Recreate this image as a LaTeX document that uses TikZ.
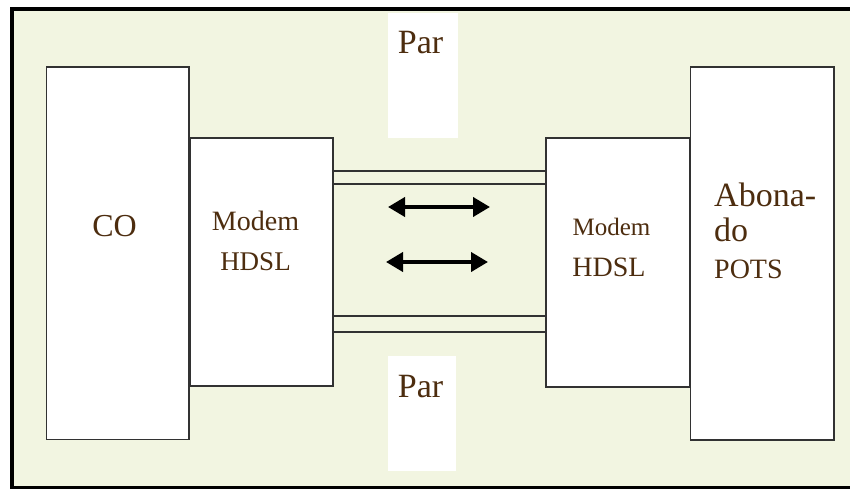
\documentclass[tikz,border=0pt]{standalone}
\usepackage{fontspec}
\setmainfont{Liberation Serif}
\usetikzlibrary{arrows.meta}
\definecolor{bgcream}{RGB}{242,245,225}
\definecolor{txtbrown}{RGB}{77,45,15}
\definecolor{edgegray}{RGB}{50,50,50}
\begin{document}
\begin{tikzpicture}[x=1pt,y=-1pt,
  box/.style={draw=edgegray, line width=1.8pt, fill=white, inner sep=0pt, anchor=north west},
  parbox/.style={fill=white, inner sep=0pt, anchor=north west},
  txt/.style={text=txtbrown, inner sep=0pt, anchor=base},
  txtl/.style={text=txtbrown, inner sep=0pt, anchor=base west},
  wire/.style={draw=edgegray, line width=1.2pt},
  dblarrow/.style={line width=4pt, {Triangle[length=17pt 0, width=19pt 0]}-{Triangle[length=17pt 0, width=19pt 0]}}
]
\useasboundingbox (0,0) rectangle (850,489);
% background and frame
\fill[white] (0,0) rectangle (850,489);
\fill[bgcream] (12,9) rectangle (850,488);
\draw[line width=4pt] (852,9) -- (12,9) -- (12,488) -- (852,488);

% Par white rectangles
\node[parbox, minimum width=70pt, minimum height=125pt] (partop) at (388,13) {};
\node[parbox, minimum width=68pt, minimum height=115pt] (parbot) at (388,356) {};

% boxes
\node[box, minimum width=142.5pt, minimum height=372.5pt] (co) at (45.5,66) {};
\node[box, minimum width=143pt, minimum height=248pt] (ml) at (189,137) {};
\node[box, minimum width=143.5pt, minimum height=373pt] (ab) at (689.5,66) {};
\node[box, minimum width=144pt, minimum height=249pt] (mr) at (545,137) {};

% pair wires
\coordinate (y1) at (0,171);
\coordinate (y2) at (0,184);
\coordinate (y3) at (0,316);
\coordinate (y4) at (0,332);
\draw[wire] (ml.east |- y1) -- (mr.west |- y1);
\draw[wire] (ml.east |- y2) -- (mr.west |- y2);
\draw[wire] (ml.east |- y3) -- (mr.west |- y3);
\draw[wire] (ml.east |- y4) -- (mr.west |- y4);

% arrows
\coordinate (a1l) at (388,207);
\coordinate (a1r) at (490,207);
\coordinate (a2l) at (386,262);
\coordinate (a2r) at (488,262);
\draw[dblarrow] (a1l) -- (a1r);
\draw[dblarrow] (a2l) -- (a2r);

% texts
\node[txt, font=\fontsize{32}{38}\selectfont] (tco) at (114.5,236) {CO};
\node[txt, font=\fontsize{28}{34}\selectfont] (tml1) at (255.5,230) {Modem};
\node[txt, font=\fontsize{27}{32}\selectfont] (tml2) at (255.5,270) {HDSL};
\node[txt, font=\fontsize{25}{30}\selectfont] (tmr1) at (611.5,235) {Modem};
\node[txt, font=\fontsize{28}{34}\selectfont] (tmr2) at (609,276) {HDSL};
\node[txtl, font=\fontsize{34}{40}\selectfont] (tab1) at (714,206) {Abona-};
\node[txtl, font=\fontsize{34}{40}\selectfont] (tab2) at (714,241) {do};
\node[txtl, font=\fontsize{28}{34}\selectfont] (tab3) at (714,278) {POTS};
\node[txt, font=\fontsize{34}{40}\selectfont] (tpar1) at (420.5,54) {Par};
\node[txt, font=\fontsize{34}{40}\selectfont] (tpar2) at (420.5,397) {Par};
\end{tikzpicture}
\end{document}
